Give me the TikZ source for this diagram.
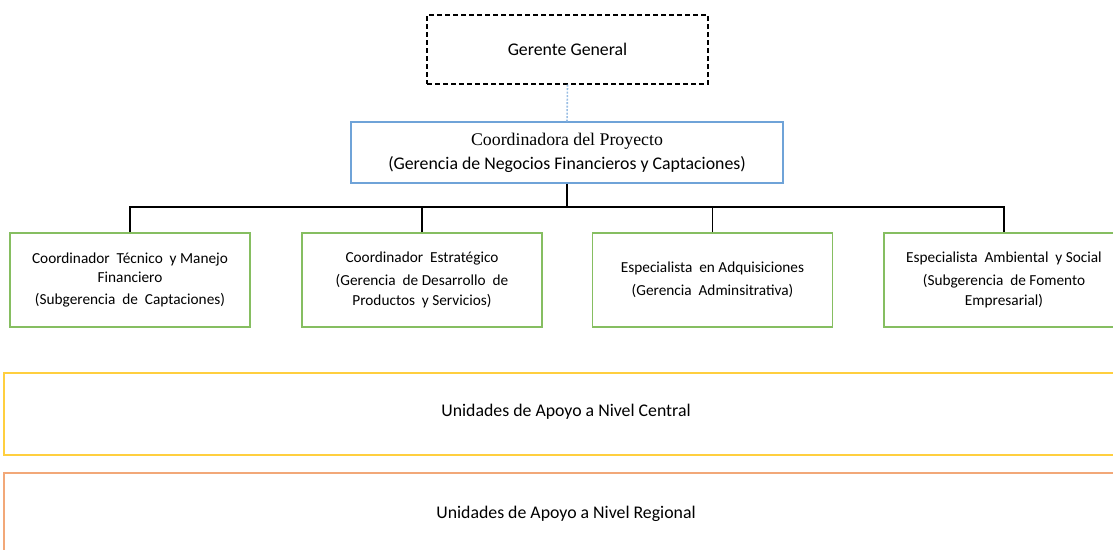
\documentclass[tikz,border=0pt]{standalone}
\usepackage{fontspec}
\setmainfont{Carlito}
\newfontfamily\serifcoord{Liberation Serif}
\definecolor{bluebox}{HTML}{6FA3D8}
\definecolor{greenbox}{HTML}{86BE61}
\definecolor{yellowbox}{HTML}{FFCF3F}
\definecolor{orangebox}{HTML}{F2A878}
\begin{document}
\begin{tikzpicture}[x=1pt,y=-1pt,
  boxbase/.style={draw,inner sep=0pt,align=center,line width=1.2pt},
  greenunit/.style={boxbase,draw=greenbox,minimum width=240pt,minimum height=94pt,font=\fontsize{15.3}{22}\selectfont},
  wideunit/.style={boxbase,minimum width=1120pt,minimum height=82pt},
  bigtext/.style={font=\fontsize{17.8}{21}\selectfont},
  link/.style={line width=1.5pt,black}]
\useasboundingbox (0,0) rectangle (1113,549);
\node[boxbase,draw=black,dash pattern=on 5pt off 3pt,line width=1.2pt,minimum width=281pt,minimum height=69pt,bigtext] (gg) at (567.5,49.5) {Gerente General};
\node[boxbase,draw=bluebox,minimum width=432pt,minimum height=61pt] (cp) at (567,152.5)
  {{\serifcoord\fontsize{17.8}{21}\selectfont Coordinadora del Proyecto}\\[6pt]
   {\fontsize{17.8}{21}\selectfont (Gerencia de Negocios Financieros y Captaciones)}};
\draw[bluebox!70,dash pattern=on 2pt off 1.5pt,line width=1.6pt] (gg.south) -- (cp.north);
\node[greenunit] (g1) at (130,280) {Coordinador\ \ Técnico\ \ y Manejo\\[-3pt] Financiero\\ (Subgerencia\ \ de\ \ Captaciones)};
\node[greenunit] (g2) at (422,280) {Coordinador\ \ Estratégico\\[1pt] (Gerencia\ \ de Desarrollo\ \ de\\[-2pt] Productos\ \ y Servicios)};
\node[greenunit] (g3) at (712.5,280) {Especialista\ \ en Adquisiciones\\[1pt] (Gerencia\ \ Adminsitrativa)};
\node[greenunit] (g4) at (1004,280) {Especialista\ \ Ambiental\ \ y Social\\[1pt] (Subgerencia\ \ de Fomento\\[-2pt] Empresarial)};
\coordinate (bus) at (567,207);
\draw[link,line width=2pt] (cp.south) -- (bus);
\draw[link] (g1.north) |- (bus) -| (g4.north);
\draw[link] (g2.north) -- (g2.north |- bus);
\draw[link] (g3.north) -- (g3.north |- bus);
\node[wideunit,draw=yellowbox] (uc) at (564,414) {};
\node[bigtext] (ucl) at (566,412) {Unidades de Apoyo a Nivel Central};
\node[wideunit,draw=orangebox,minimum height=90pt] (ur) at (564,518) {};
\node[bigtext] (url) at (566,514) {Unidades de Apoyo a Nivel Regional};
\end{tikzpicture}
\end{document}
